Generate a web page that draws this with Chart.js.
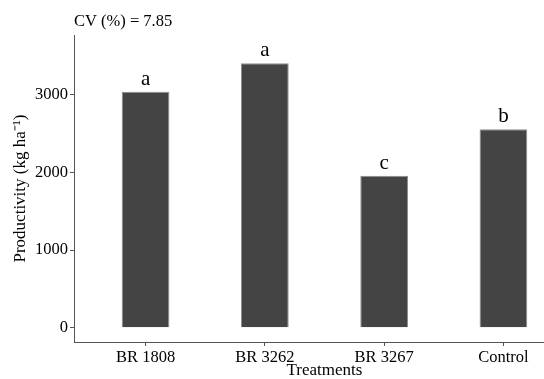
<!DOCTYPE html>
<html>
<head>
<meta charset="utf-8">
<script src="https://cdn.jsdelivr.net/npm/chart.js@4/dist/chart.umd.min.js"></script>
<style>
  html, body { margin: 0; padding: 0; background: #fff; overflow: hidden; }
  #wrap { width: 575px; height: 379px; }
</style>
</head>
<body>
<div id="wrap"><canvas id="c" width="575" height="379"></canvas></div>
<script>
// Productivity by treatment (kg/ha) with Tukey grouping letters
const categories = ['BR 1808', 'BR 3262', 'BR 3267', 'Control'];
const productivity = [3040, 3405, 1958, 2558];
const groupLetters = ['a', 'a', 'c', 'b'];
const yTicks = [0, 1000, 2000, 3000];
const cvText = 'CV (%) = 7.85';

const SERIF = '"Liberation Serif", "Times New Roman", serif';
const AXIS_GREY = '#555555';

// Letters above bars and CV note above the panel
const annotate = {
  id: 'annotate',
  afterDatasetsDraw(chart) {
    const ctx = chart.ctx;
    const meta = chart.getDatasetMeta(0);
    ctx.save();
    ctx.fillStyle = '#000';
    ctx.textAlign = 'center';
    ctx.textBaseline = 'alphabetic';
    ctx.font = '21px ' + SERIF;
    meta.data.forEach((bar, i) => {
      ctx.fillText(groupLetters[i], bar.x, bar.y - 7);
    });
    ctx.textAlign = 'left';
    ctx.font = '16.5px ' + SERIF;
    ctx.fillText(cvText, chart.chartArea.left, 26);
    ctx.restore();
  }
};

new Chart(document.getElementById('c'), {
  type: 'bar',
  data: {
    datasets: [{
      data: categories.map((c, i) => ({ x: i, y: productivity[i] })),
      backgroundColor: '#444444',
      borderColor: '#8f8f8f',
      borderWidth: 1,
      barPercentage: 0.4,
      categoryPercentage: 1.0
    }]
  },
  options: {
    responsive: false,
    animation: false,
    layout: { padding: { top: 35, right: 0, left: 0, bottom: 0 } },
    plugins: { legend: { display: false }, tooltip: { enabled: false } },
    scales: {
      x: {
        type: 'linear',
        min: -0.6,
        max: 3.6,
        offset: false,
        afterBuildTicks(scale) { scale.ticks = categories.map((c, i) => ({ value: i })); },
        afterFit(scale) { scale.height = 37; },
        ticks: {
          callback: (v) => categories[v],
          color: '#000',
          padding: 2,
          font: { family: SERIF, size: 16.5 },
          maxRotation: 0,
          autoSkip: false
        },
        grid: { display: true, offset: false, drawOnChartArea: false, drawTicks: true, tickLength: 4, color: AXIS_GREY },
        border: { display: true, color: AXIS_GREY, width: 1 },
        title: {
          display: true,
          text: 'Treatments',
          color: '#000',
          font: { family: SERIF, size: 17, lineHeight: 1 },
          padding: { top: 0, bottom: 0 }
        }
      },
      y: {
        min: -183,
        max: 3770,
        afterBuildTicks(scale) { scale.ticks = yTicks.map(v => ({ value: v })); },
        afterFit(scale) { scale.width = 74; },
        ticks: {
          callback: (v) => String(v),
          color: '#000',
          padding: 2,
          font: { family: SERIF, size: 16.5 }
        },
        grid: { display: true, drawOnChartArea: false, drawTicks: true, tickLength: 4, color: AXIS_GREY },
        border: { display: true, color: AXIS_GREY, width: 1 },
        title: {
          display: true,
          text: 'Productivity (kg ha⁻¹)',
          color: '#000',
          font: { family: SERIF, size: 17 },
          padding: { top: 10, bottom: 0 }
        }
      }
    }
  },
  plugins: [annotate]
});
</script>
</body>
</html>
